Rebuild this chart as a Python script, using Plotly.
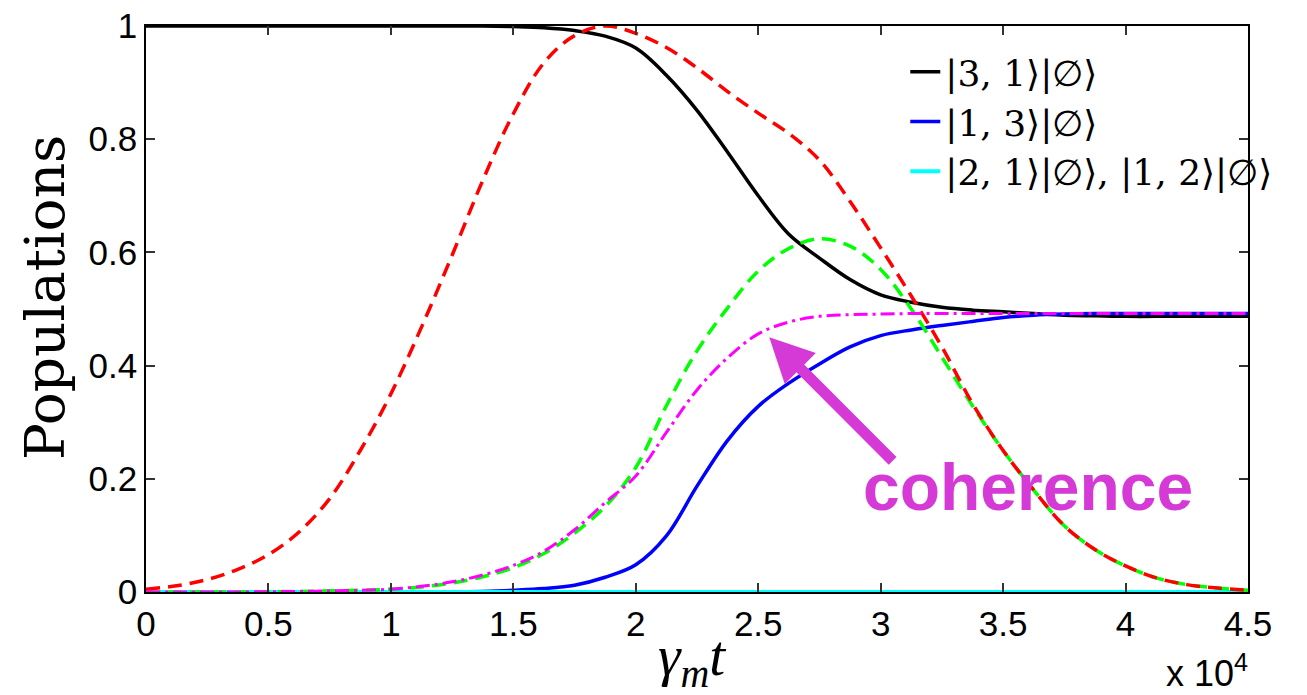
import plotly.graph_objects as go

# time axis (gamma_m * t), step 1250
t = [0, 1250, 2500, 3750, 5000, 6250, 7500, 8750, 10000, 11250, 12500, 13750, 15000,
     16250, 17500, 18750, 20000, 21250, 22500, 23750, 25000, 26250, 27500, 28750, 30000,
     31250, 32500, 33750, 35000, 36250, 37500, 38750, 40000, 41250, 42500, 43750, 45000]

p31 = [1.0, 1.0, 1.0, 1.0, 1.0, 1.0, 1.0, 1.0, 1.0, 1.0, 1.0, 1.0, 0.999,
       0.997, 0.992, 0.982, 0.961, 0.913, 0.851, 0.777, 0.70, 0.632, 0.59, 0.552, 0.525,
       0.512, 0.503, 0.498, 0.495, 0.492, 0.489, 0.488, 0.487, 0.487, 0.487, 0.487, 0.487]
p13 = [0.0, 0.0, 0.0, 0.0, 0.0, 0.0, 0.0, 0.0, 0.0, 0.0, 0.0, 0.001, 0.003,
       0.006, 0.012, 0.026, 0.048, 0.099, 0.187, 0.268, 0.328, 0.369, 0.403, 0.433, 0.453,
       0.463, 0.471, 0.478, 0.485, 0.489, 0.491, 0.492, 0.492, 0.492, 0.492, 0.492, 0.492]
p21 = [0.0] * 37
p_red = [0.005, 0.011, 0.022, 0.04, 0.066, 0.106, 0.165, 0.25, 0.35, 0.468, 0.595, 0.727, 0.845,
         0.935, 0.983, 1.0, 0.987, 0.962, 0.926, 0.884, 0.846, 0.81, 0.763, 0.69, 0.608,
         0.523, 0.433, 0.333, 0.25, 0.18, 0.117, 0.075, 0.046, 0.025, 0.013, 0.007, 0.003]
p_green = [0.0, 0.0, 0.0, 0.0, 0.0005, 0.001, 0.002, 0.003, 0.005, 0.009, 0.016, 0.027, 0.043,
           0.068, 0.104, 0.151, 0.22, 0.329, 0.426, 0.502, 0.567, 0.607, 0.624, 0.611, 0.57,
           0.50, 0.415, 0.329, 0.25, 0.18, 0.117, 0.075, 0.046, 0.025, 0.013, 0.007, 0.003]
p_coh = [0.0, 0.0, 0.0, 0.0, 0.0005, 0.001, 0.002, 0.003, 0.005, 0.01, 0.018, 0.03, 0.047,
         0.072, 0.11, 0.158, 0.205, 0.282, 0.357, 0.414, 0.456, 0.477, 0.487, 0.490, 0.491,
         0.492, 0.492, 0.492, 0.492, 0.492, 0.492, 0.492, 0.492, 0.492, 0.492, 0.492, 0.492]

xtick_vals = [0, 5000, 10000, 15000, 20000, 25000, 30000, 35000, 40000, 45000]
xtick_text = ["0", "0.5", "1", "1.5", "2", "2.5", "3", "3.5", "4", "4.5"]
ytick_vals = [0, 0.2, 0.4, 0.6, 0.8, 1.0]
ytick_text = ["0", "0.2", "0.4", "0.6", "0.8", "1"]

names = ["|3, 1⟩|∅⟩", "|1, 3⟩|∅⟩", "|2, 1⟩|∅⟩, |1, 2⟩|∅⟩"]

SM = 1.0
fig = go.Figure()
fig.add_trace(go.Scatter(x=t, y=p31, name=names[0], mode="lines", legendgroup="a",
                         line=dict(color="black", width=3.5, shape="spline", smoothing=SM)))
fig.add_trace(go.Scatter(x=t, y=p13, name=names[1], mode="lines", legendgroup="b",
                         line=dict(color="#0000ff", width=3.5, shape="spline", smoothing=SM)))
fig.add_trace(go.Scatter(x=t, y=p21, name=names[2], mode="lines", legendgroup="c",
                         line=dict(color="#00ffff", width=4, shape="spline", smoothing=SM)))
fig.add_trace(go.Scatter(x=t, y=p_green, mode="lines", showlegend=False,
                         line=dict(color="#00ff00", width=3.5, dash="14px,8px", shape="spline", smoothing=SM)))
fig.add_trace(go.Scatter(x=t, y=p_red, mode="lines", showlegend=False,
                         line=dict(color="#ff0000", width=3.5, dash="14px,8px", shape="spline", smoothing=SM)))
fig.add_trace(go.Scatter(x=t, y=p_coh, mode="lines", showlegend=False,
                         line=dict(color="#ff00ff", width=3, dash="14px,5px,3px,5px", shape="spline", smoothing=SM)))

tickfont = dict(family="Liberation Sans, Arial, sans-serif", size=35, color="black")
axis_common = dict(showline=True, linecolor="black", linewidth=1.5, mirror="ticks",
                   ticks="inside", ticklen=9, tickwidth=1.5, tickcolor="#333",
                   showgrid=False, zeroline=False, tickfont=tickfont, automargin=False)

fig.update_layout(
    width=1307, height=695,
    margin=dict(l=146, r=59, t=26, b=103),
    paper_bgcolor="white", plot_bgcolor="white",
    xaxis=dict(range=[0, 45000], tickvals=xtick_vals, ticktext=xtick_text, **axis_common),
    yaxis=dict(range=[0, 1], tickvals=ytick_vals, ticktext=ytick_text, **axis_common),
    legend=dict(x=0.689, y=0.972, xanchor="left", yanchor="top",
                bgcolor="rgba(255,255,255,0)", borderwidth=0,
                font=dict(family="DejaVu Serif, serif", size=36, color="black"),
                traceorder="grouped", tracegroupgap=0),
    showlegend=True,
)

# axis titles
fig.add_annotation(x=0.4955, y=-0.121, xref="paper", yref="paper", xanchor="center", yanchor="middle",
                   text="<i>γ</i><sub><i>m</i></sub><i>t</i>", showarrow=False,
                   font=dict(family="Liberation Serif, serif", size=57, color="black"))
fig.add_annotation(x=-0.0917, y=0.521, xref="paper", yref="paper", xanchor="center", yanchor="middle",
                   text="Populations", textangle=-90, showarrow=False,
                   font=dict(family="DejaVu Serif, serif", size=55, color="black"))

fig.add_annotation(x=25450, y=0.450, ax=30550, ay=0.229, xref="x", yref="y", axref="x", ayref="y",
                   text="", showarrow=True, arrowhead=2, arrowwidth=11, arrowsize=0.8,
                   arrowcolor="#d63ad6")
fig.add_annotation(x=36000, y=0.185, xref="x", yref="y", text="<b>coherence</b>", showarrow=False,
                   font=dict(family="Liberation Sans, Arial, sans-serif", size=66, color="#d63ad6"))
fig.add_annotation(x=1.002, y=-0.14, xref="paper", yref="paper", xanchor="right", yanchor="middle",
                   text="x 10<sup>4</sup>", showarrow=False,
                   font=dict(family="Liberation Sans, Arial, sans-serif", size=36, color="black"))

fig.write_html("out.html")
